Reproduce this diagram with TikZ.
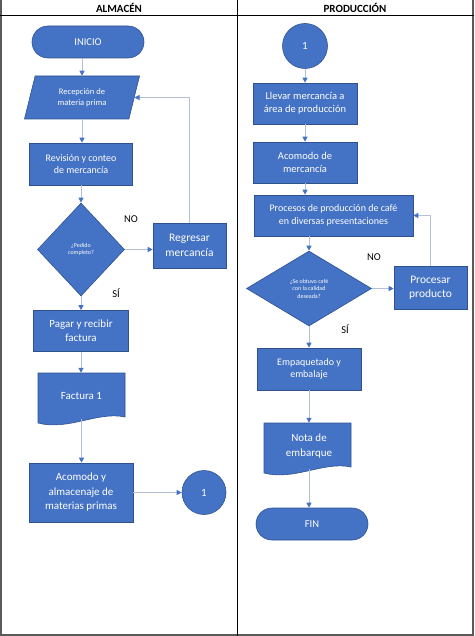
\documentclass[tikz,border=0pt]{standalone}
\usepackage{fontspec}
\setmainfont{Carlito}
\usetikzlibrary{shapes.geometric,shapes.misc,arrows.meta,positioning}

\definecolor{blu}{HTML}{4472C4}
\definecolor{bdr}{HTML}{2F528F}
\definecolor{lin}{HTML}{B4C0D8}
\definecolor{frm}{HTML}{5A5A5A}

\newcommand{\fs}[2]{\fontsize{#1}{#2}\selectfont}

\tikzset{
  shp/.style={draw=bdr,fill=blu,text=white,align=center,line width=0.6pt,inner sep=2pt},
  proc/.style={shp,rectangle},
  term/.style={shp,rounded rectangle},
  dec/.style={shp,diamond},
  io/.style={shp,trapezium,trapezium left angle=65,trapezium right angle=115,trapezium stretches body},
  circ/.style={shp,circle},
  doc/.style={text=white,align=center,inner sep=0pt,minimum width=87,minimum height=46},
  arr/.style={draw=lin,line width=1pt,-{Triangle[length=5pt,width=5pt,color=blu]}},
  lbl/.style={text=black,font=\fs{10.5}{13}}
}

\begin{document}
\begin{tikzpicture}[x=1pt,y=-1pt]
\useasboundingbox (0,0) rectangle (474,636);

% lanes
\draw[frm,line width=2.5pt] (1.2,0) -- (1.2,634.8) -- (472.8,634.8) -- (472.8,0);
\draw[black,line width=1pt] (0,15.5) -- (474,15.5);
\draw[black,line width=0.8pt] (237.5,0) -- (237.5,636);
\node[font=\bfseries\fs{11}{13}] (hAlm) at (119,8) {ALMACÉN};
\node[font=\bfseries\fs{11}{13}] (hPro) at (355,8) {PRODUCCIÓN};

% document shapes
\foreach \x/\y in {38/373,264/423}
  \filldraw[draw=bdr,fill=blu,line width=0.6pt] (\x,\y) -- (\x+87,\y) -- (\x+87,\y+44)
    .. controls (\x+60,\y+38) and (\x+30,\y+58) .. (\x,\y+50) -- cycle;

% almacen
\node[term,minimum width=116,minimum height=32,font=\fs{10.5}{13}] (ini) at (88,42) {INICIO};
\node[io,minimum width=115,minimum height=43,font=\fs{8.5}{11.5}] (rec) at (82,97.5) {Recepción de\\materia prima};
\node[proc,minimum width=103,minimum height=42,font=\fs{10}{12.3}] (rev) at (81,164) {Revisión y conteo\\de mercancía};
\node[dec,minimum width=87,minimum height=93,font=\fs{6}{7.5}] (ped) at (81,249.5) {¿Pedido\\completo?};
\node[proc,minimum width=73,minimum height=45,font=\fs{11.5}{14.3}] (reg) at (189.5,245.5) {Regresar\\mercancía};
\node[proc,minimum width=95,minimum height=41,font=\fs{11}{14.3}] (pag) at (81,331) {Pagar y recibir\\factura};
\node[doc,font=\fs{11}{14}] (fac) at (81.5,396) {Factura 1};
\node[proc,minimum width=104,minimum height=59,font=\fs{11}{14.5}] (aco) at (81,492.5) {Acomodo y\\almacenaje de\\materias primas};
\node[circ,minimum size=44,font=\fs{11}{13}] (cA) at (204,492.5) {1};
\node[lbl] (noA) at (131,219) {NO};
\node[lbl] (siA) at (116,293) {SÍ};

% produccion
\node[circ,minimum size=45,font=\fs{11}{13}] (cB) at (305,46) {1};
\node[proc,minimum width=104,minimum height=41,font=\fs{10.5}{13.3}] (lle) at (305,103.5) {Llevar mercancía a\\área de producción};
\node[proc,minimum width=104,minimum height=41,font=\fs{10.5}{13}] (acm) at (305,162.5) {Acomodo de\\mercancía};
\node[proc,minimum width=159,minimum height=41,font=\fs{10}{13.3}] (pro) at (333.5,215.5) {Procesos de producción de café\\en diversas presentaciones};
\node[dec,minimum width=125,minimum height=75,aspect=1.67,font=\fs{6}{7.5}] (cal) at (309,288.5) {¿Se obtuvo café\\con la calidad\\deseada?};
\node[proc,minimum width=73,minimum height=43,font=\fs{11.5}{14.3}] (prp) at (430.5,287.5) {Procesar\\producto};
\node[proc,minimum width=104,minimum height=42,font=\fs{10}{12.3}] (emp) at (309,369) {Empaquetado y\\embalaje};
\node[doc,font=\fs{11}{14.3}] (nota) at (309,446) {Nota de\\embarque};
\node[term,minimum width=116,minimum height=32,font=\fs{10.5}{13}] (fin) at (312,524) {FIN};
\node[lbl] (noB) at (374,257) {NO};
\node[lbl] (siB) at (345,329) {SÍ};

% connectors
\draw[arr] (rec.north |- ini.south) -- (rec.north);
\foreach \a/\b in {rec/rev,rev/ped,ped/pag,pag/fac,fac/aco,cB/lle,lle/acm,acm/pro,cal/emp,emp/nota,nota/fin}
  \draw[arr] (\a.south) -- (\a.south |- \b.north);
\draw[arr] (cal.north |- pro.south) -- (cal.north);
\draw[arr] (ped.east) -- (ped.east -| reg.west);
\draw[arr] (reg.north) |- (rec.east);
\draw[arr] (aco.east) -- (aco.east -| cA.west);
\draw[arr] (cal.east) -- (cal.east -| prp.west);
\draw[arr] (prp.north) |- (pro.east);
\end{tikzpicture}
\end{document}
